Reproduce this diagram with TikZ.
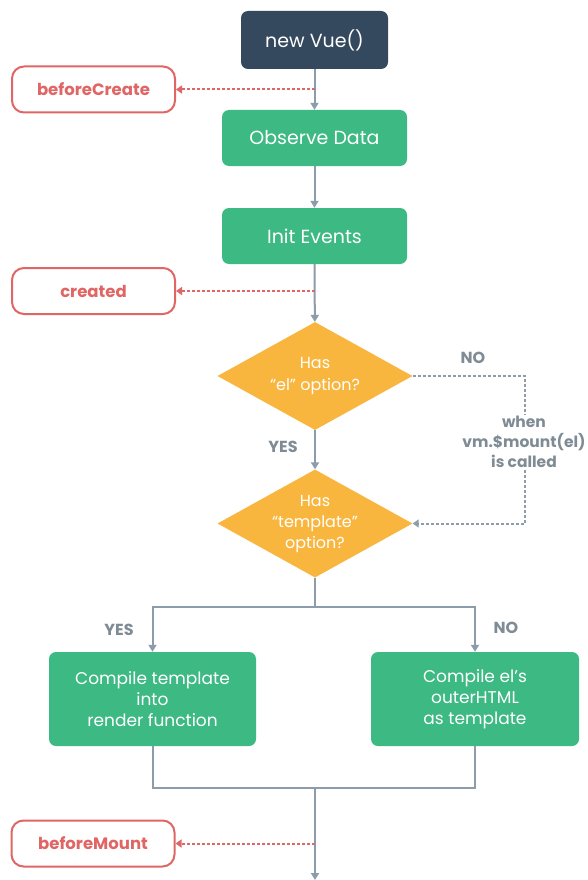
\documentclass[tikz,border=0pt]{standalone}
\usepackage{fontspec}
\setmainfont{Poppins}
\usetikzlibrary{shapes.geometric,arrows.meta}
\definecolor{vdark}{HTML}{35495E}
\definecolor{vgreen}{HTML}{3DB983}
\definecolor{vorange}{HTML}{F9B63F}
\definecolor{vred}{HTML}{E06666}
\definecolor{vgray}{HTML}{8D9CAA}
\definecolor{vlabel}{HTML}{7F8C95}
\begin{document}
\begin{tikzpicture}[x=1pt,y=-1pt,
 box/.style={rectangle, rounded corners=7pt, fill=vgreen, text=white, align=center, inner sep=0pt, font=\fontsize{17}{21}\selectfont},
 hook/.style={rectangle, rounded corners=12pt, draw=vred, line width=2pt, fill=white, text=vred, font=\bfseries\fontsize{16.5}{18}\selectfont, inner sep=0pt, minimum width=163pt, minimum height=46pt},
 dec/.style={diamond, aspect=1.8, fill=vorange, text=white, align=center, inner sep=0pt, minimum width=195pt, minimum height=108pt, font=\fontsize{16}{21}\selectfont},
 flow/.style={draw=vgray, line width=2pt, -{Triangle[length=7pt,width=8pt]}},
 plain/.style={draw=vgray, line width=2pt},
 hookline/.style={draw=vred, line width=2pt, dash pattern=on 3pt off 2pt, -{Triangle[length=6pt,width=8pt]}},
 wait/.style={draw=vgray, line width=2pt, dash pattern=on 3pt off 2pt},
 lbl/.style={text=vlabel, font=\bfseries\fontsize{16}{20}\selectfont, align=center}
]
\useasboundingbox (0,0) rectangle (588,880);
\fill[white] (0,0) rectangle (588,880);

\node[box, fill=vdark, minimum width=147pt, minimum height=58pt, font=\fontsize{19}{22}\selectfont] (new) at (314.5,40) {new Vue()};
\node[hook] (bc) at (93.5,89.5) {beforeCreate};
\node[box, minimum width=185pt, minimum height=56pt, font=\fontsize{19}{22}\selectfont] (obs) at (314.5,138) {Observe Data};
\node[box, minimum width=185pt, minimum height=56pt, font=\fontsize{19}{22}\selectfont] (init) at (314.5,236) {Init Events};
\node[hook] (cr) at (93.5,291) {created};
\node[dec] (d1) at (315,376) {Has\\“el” option?};
\node[dec] (d2) at (315,523.5) {Has\\“template”\\option?};
\node[box, minimum width=207pt, minimum height=94pt] (ct) at (152.5,699) {Compile template\\into\\render function};
\node[box, minimum width=208pt, minimum height=94pt] (ce) at (475,699) {Compile el’s\\outerHTML\\as template};
\node[hook] (bm) at (93,843.5) {beforeMount};

\draw[flow] (new) -- (obs);
\coordinate (a1) at (314.5,89.5);
\draw[hookline] (a1) -- (bc.east);
\draw[flow] (obs) -- (init);
\draw[flow] (init) -- (d1);
\coordinate (a2) at (314.5,291);
\draw[hookline] (a2) -- (cr.east);
\draw[flow] (d1) -- (d2);

\node[lbl] (yes1) at (283,447) {YES};
\node[lbl] (no1) at (473,358) {NO};
\node[lbl, inner sep=2pt, font=\bfseries\fontsize{15.5}{20}\selectfont] (when) at (524,442) {when\\vm.\$mount(el)\\is called};
\coordinate (c1) at (525,376);
\coordinate (c2) at (525,523.5);
\draw[wait] (d1.east) -- (c1) -- (c1 |- when.north);
\draw[wait, -{Triangle[length=6pt,width=8pt]}] (c1 |- when.south) -- (c2) -- (d2.east);

\coordinate (j1) at (315,607);
\draw[plain] (d2.south) -- (j1);
\draw[flow] (j1) -| (ct.north);
\draw[flow] (j1) -| (ce.north);
\node[lbl] (yes2) at (119,630) {YES};
\node[lbl] (no2) at (506,628) {NO};

\coordinate (j2) at (315,788);
\draw[plain] (ct.south) |- (j2) -| (ce.south);
\coordinate (endp) at (315,880);
\draw[flow] (j2) -- (endp);
\coordinate (a3) at (315,843.5);
\draw[hookline] (a3) -- (bm.east);
\end{tikzpicture}
\end{document}
